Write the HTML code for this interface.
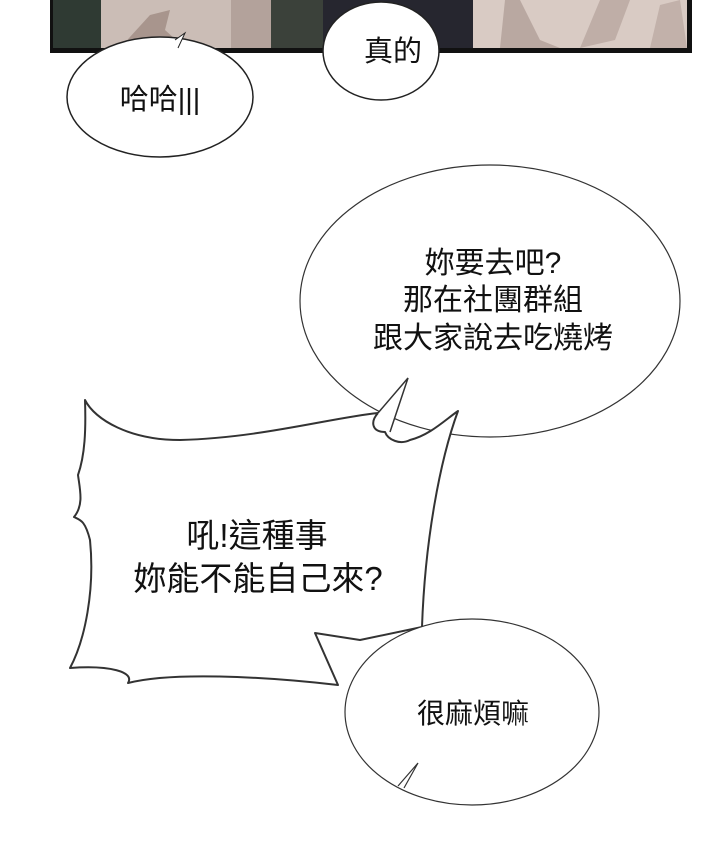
<!DOCTYPE html>
<html><head><meta charset="utf-8"><style>
html,body{margin:0;padding:0;background:#fff;}
svg{display:block}
text{font-family:"Liberation Sans","Noto Sans CJK TC",sans-serif;fill:#111;}
</style></head><body>
<svg width="720" height="847" viewBox="0 0 720 847" xmlns="http://www.w3.org/2000/svg">
<rect width="720" height="847" fill="#fff"/>
<rect x="50" y="0" width="642" height="53" fill="#111"/>
<rect x="53" y="0" width="48" height="48" fill="#2f3a33"/>
<rect x="101" y="0" width="130" height="48" fill="#cbbdb6"/>
<polygon points="120,48 150,15 170,10 165,30 185,48" fill="#a8958d"/>
<rect x="231" y="0" width="40" height="48" fill="#b3a29b"/>
<rect x="271" y="0" width="52" height="48" fill="#3b413a"/>
<rect x="323" y="0" width="150" height="48" fill="#26262f"/>
<rect x="473" y="0" width="214" height="48" fill="#d9cbc4"/>
<polygon points="500,48 505,0 520,0 540,40 560,48" fill="#b9a8a1"/>
<polygon points="580,48 600,0 630,0 615,40" fill="#bfaea7"/>
<polygon points="650,48 660,5 680,0 687,48" fill="#c2b1aa"/>
<ellipse cx="381" cy="51" rx="58" ry="49" fill="#fff" stroke="#222" stroke-width="1.5"/>
<text x="393" y="61" font-size="29" text-anchor="middle">真的</text>
<ellipse cx="160" cy="97" rx="93" ry="60" fill="#fff" stroke="#222" stroke-width="1.5"/>
<polyline points="175,40 185,33 178,48" fill="#fff" stroke="#222" stroke-width="1"/>
<text x="160" y="109" font-size="29" text-anchor="middle">哈哈|||</text>
<ellipse cx="490" cy="301" rx="190" ry="136" fill="#fff" stroke="#333" stroke-width="1.2"/>
<text x="493" y="273" font-size="30" text-anchor="middle">妳要去吧?</text>
<text x="493" y="310" font-size="30" text-anchor="middle">那在社團群組</text>
<text x="493" y="348" font-size="30" text-anchor="middle">跟大家說去吃燒烤</text>
<path d="M85,400 C95,420 130,440 180,440 C260,438 330,418 378,413 C370,422 372,432 385,432 C388,440 400,445 410,440 C430,435 445,420 458,411 C440,460 425,540 422,627 L360,640 L315,633 L338,685 C260,676 170,672 128,683 C135,672 110,665 70,668 C85,640 95,590 90,540 C85,520 80,520 74,517 C84,505 80,490 78,475 C85,455 86,430 85,400 Z" fill="#fff" stroke="#333" stroke-width="2" stroke-linejoin="round"/>
<path d="M378,413 L408,378 L390,432" fill="#fff" stroke="#333" stroke-width="1.5"/>
<text x="257" y="547" font-size="33" text-anchor="middle">吼!這種事</text>
<text x="258" y="590" font-size="33" text-anchor="middle">妳能不能自己來?</text>
<ellipse cx="472" cy="712" rx="127" ry="93" fill="#fff" stroke="#333" stroke-width="1.2"/>
<path d="M398,786 L418,763 L404,788" fill="#fff" stroke="#333" stroke-width="1.2"/>
<text x="473" y="723" font-size="28" text-anchor="middle">很麻煩嘛</text>
</svg>
</body></html>
